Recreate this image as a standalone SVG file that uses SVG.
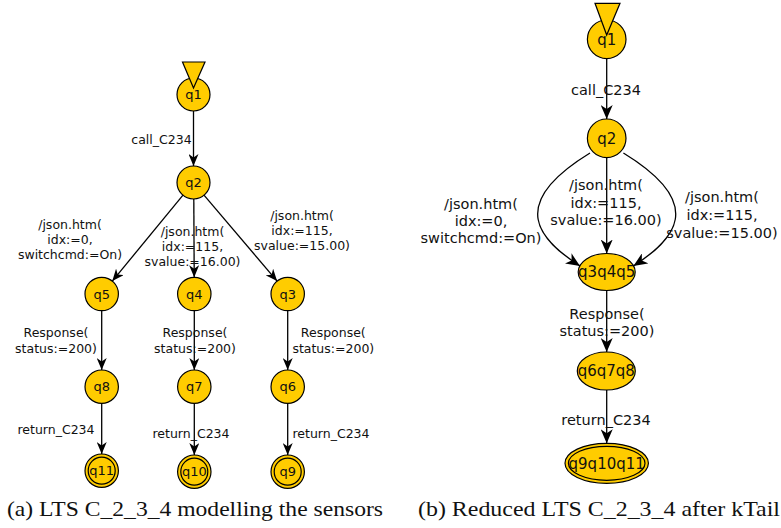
<svg xmlns="http://www.w3.org/2000/svg" width="781" height="528" viewBox="0 0 781 528">
<defs>
<style>
.n{fill:#FFCC00;stroke:#000;stroke-width:1.2}
.e{fill:none;stroke:#000;stroke-width:1.3}
.ea{marker-end:url(#arrA)}
.eb{marker-end:url(#arrB)}
.t{font-family:"DejaVu Sans",Verdana,sans-serif;font-size:12.5px;text-anchor:middle;fill:#111}
.t2{font-family:"DejaVu Sans",Verdana,sans-serif;font-size:14.5px;text-anchor:middle;fill:#111}
.nl{font-family:"DejaVu Sans",Verdana,sans-serif;font-size:13px;text-anchor:middle;fill:#111}
.nl2{font-family:"DejaVu Sans",Verdana,sans-serif;font-size:15px;text-anchor:middle;fill:#111}
.cap{font-family:"Liberation Serif","Times New Roman",serif;font-size:22px;fill:#111}
</style>
<marker id="arrA" markerUnits="userSpaceOnUse" viewBox="0 0 12 10" markerWidth="12" markerHeight="10" refX="12" refY="5" orient="auto"><path d="M0,0 L12,5 L0,10 L3.5,5 Z" fill="#000"/></marker>
<marker id="arrB" markerUnits="userSpaceOnUse" viewBox="0 0 14 12" markerWidth="14" markerHeight="12" refX="14" refY="6" orient="auto"><path d="M0,0 L14,6 L0,12 L4,6 Z" fill="#000"/></marker>
</defs>
<rect width="781" height="528" fill="#fff"/>

<!-- connectors (a) -->
<g id="edges-a">
<path class="e ea" d="M193.5,111 L193.5,166"/>
<path class="e ea" d="M183,195.2 L112.3,281.1"/>
<path class="e ea" d="M193.8,199 L194.2,277.3"/>
<path class="e ea" d="M204,195.2 L277.1,281.1"/>
<path class="e ea" d="M101.7,310.7 L101.7,370"/>
<path class="e ea" d="M194.3,310.7 L194.3,370"/>
<path class="e ea" d="M287.7,310.7 L287.7,370"/>
<path class="e ea" d="M101.7,403.4 L101.7,454"/>
<path class="e ea" d="M194.3,403.4 L194.3,455"/>
<path class="e ea" d="M287.7,403.4 L287.7,455"/>
</g>
<g id="labels-a">
<text class="t" x="161.5" y="143.5">call_C234</text>
<text class="t" x="70" y="228.5">/json.htm(</text>
<text class="t" x="70" y="243.5">idx:=0,</text>
<text class="t" x="70" y="258.5">switchcmd:=On)</text>
<text class="t" x="192.5" y="235.7">/json.htm(</text>
<text class="t" x="192.5" y="250.7">idx:=115,</text>
<text class="t" x="192.5" y="265.5">svalue:=16.00)</text>
<text class="t" x="302" y="219.7">/json.htm(</text>
<text class="t" x="302" y="234.7">idx:=115,</text>
<text class="t" x="302" y="249.7">svalue:=15.00)</text>
<text class="t" x="56" y="336.7">Response(</text>
<text class="t" x="56" y="352.5">status:=200)</text>
<text class="t" x="195" y="336.7">Response(</text>
<text class="t" x="195" y="352.5">status:=200)</text>
<text class="t" x="333.3" y="336.7">Response(</text>
<text class="t" x="333.3" y="352.5">status:=200)</text>
<text class="t" x="56" y="434">return_C234</text>
<text class="t" x="191" y="438">return_C234</text>
<text class="t" x="331" y="438">return_C234</text>
</g>

<!-- nodes (a) -->
<g id="a-q1"><circle class="n" cx="193.5" cy="94.5" r="16.5"/><text class="nl" x="193.5" y="99.2">q1</text><polygon class="n" points="182.5,62 205,62 193.5,88"/></g>
<g id="a-q2"><circle class="n" cx="193.5" cy="182.5" r="16.5"/><text class="nl" x="193.5" y="187.2">q2</text></g>
<g id="a-q5"><circle class="n" cx="101.7" cy="294" r="16.7"/><text class="nl" x="101.7" y="298.7">q5</text></g>
<g id="a-q4"><circle class="n" cx="194.3" cy="294" r="16.7"/><text class="nl" x="194.3" y="298.7">q4</text></g>
<g id="a-q3"><circle class="n" cx="287.7" cy="294" r="16.7"/><text class="nl" x="287.7" y="298.7">q3</text></g>
<g id="a-q8"><circle class="n" cx="101.7" cy="386.7" r="16.7"/><text class="nl" x="101.7" y="391.4">q8</text></g>
<g id="a-q7"><circle class="n" cx="194.3" cy="386.7" r="16.7"/><text class="nl" x="194.3" y="391.4">q7</text></g>
<g id="a-q6"><circle class="n" cx="287.7" cy="386.7" r="16.7"/><text class="nl" x="287.7" y="391.4">q6</text></g>
<g id="a-q11"><circle class="n" cx="101.7" cy="470.7" r="16.7"/><circle class="n" cx="101.7" cy="470.7" r="13.5"/><text class="nl" x="101.7" y="475.4">q11</text></g>
<g id="a-q10"><circle class="n" cx="194.3" cy="471.7" r="16.7"/><circle class="n" cx="194.3" cy="471.7" r="13.5"/><text class="nl" x="194.3" y="476.4">q10</text></g>
<g id="a-q9"><circle class="n" cx="287.7" cy="471.7" r="16.7"/><circle class="n" cx="287.7" cy="471.7" r="13.5"/><text class="nl" x="287.7" y="476.4">q9</text></g>

<!-- connectors (b) -->
<g id="edges-b">
<path class="e eb" d="M606.7,58.6 L606.7,119"/>
<path class="e eb" d="M606.7,157.6 L606.7,253.5"/>
<path class="e eb" d="M590,153 C505,205 540,240 580,266"/>
<path class="e eb" d="M623.4,153 C708.4,205 673.4,240 633.4,266"/>
<path class="e eb" d="M606.7,290.5 L606.7,352"/>
<path class="e eb" d="M606.7,390 L606.7,443.3"/>
</g>
<g id="labels-b">
<text class="t2" x="606" y="94.5">call_C234</text>
<text class="t2" x="481" y="208.5">/json.htm(</text>
<text class="t2" x="481" y="225.7">idx:=0,</text>
<text class="t2" x="481" y="243.2">switchcmd:=On)</text>
<text class="t2" x="606" y="190.2">/json.htm(</text>
<text class="t2" x="606" y="207.7">idx:=115,</text>
<text class="t2" x="606" y="225.2">svalue:=16.00)</text>
<text class="t2" x="722" y="201.9">/json.htm(</text>
<text class="t2" x="722" y="219.7">idx:=115,</text>
<text class="t2" x="722" y="237.7">svalue:=15.00)</text>
<text class="t2" x="607" y="318.5">Response(</text>
<text class="t2" x="607" y="336.2">status:=200)</text>
<text class="t2" x="606" y="424.5">return_C234</text>
</g>

<!-- nodes (b) -->
<g id="b-q1"><circle class="n" cx="606.7" cy="39.3" r="19.3"/><text class="nl2" x="606.7" y="44.7">q1</text><polygon class="n" points="595,3.3 620,3.3 606.7,35"/></g>
<g id="b-q2"><circle class="n" cx="606.7" cy="138.3" r="19.3"/><text class="nl2" x="606.7" y="143.7">q2</text></g>
<g id="b-q3q4q5"><ellipse class="n" cx="606.7" cy="272" rx="28.5" ry="18.5"/><text class="nl2" x="606.7" y="277.4">q3q4q5</text></g>
<g id="b-q6q7q8"><ellipse class="n" cx="606.3" cy="371" rx="29" ry="19"/><text class="nl2" x="606.3" y="376.4">q6q7q8</text></g>
<g id="b-q9q10q11"><ellipse class="n" cx="606.7" cy="463.3" rx="41.7" ry="20"/><ellipse class="n" cx="606.7" cy="463.3" rx="38.3" ry="17"/><text class="nl2" x="606.7" y="468.7">q9q10q11</text></g>

<!-- captions -->
<text class="cap" x="7" y="516" textLength="376" lengthAdjust="spacingAndGlyphs">(a) LTS C_2_3_4 modelling the sensors</text>
<text class="cap" x="418" y="516" textLength="362" lengthAdjust="spacingAndGlyphs">(b) Reduced LTS C_2_3_4 after kTail</text>
</svg>
